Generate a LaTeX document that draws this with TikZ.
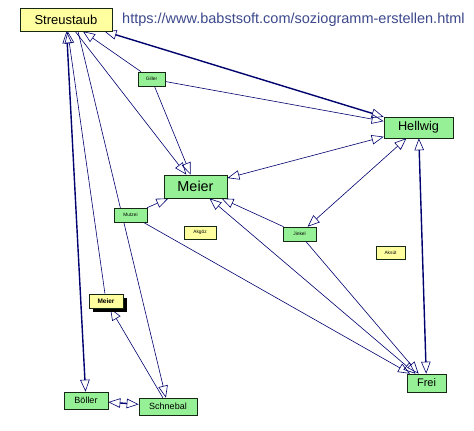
\documentclass[tikz,border=0pt]{standalone}
\usepackage{fontspec}
\setmainfont{Liberation Sans}
\usepackage{xcolor}
\usepackage{tikz}
\usetikzlibrary{arrows.meta, backgrounds, shadows}
\definecolor{mynavy}{RGB}{0,0,110}
\definecolor{myedge}{RGB}{20,40,20}
\definecolor{mygreen}{RGB}{150,240,150}
\definecolor{myyellow}{RGB}{255,255,160}
\definecolor{myurl}{RGB}{60,72,140}
\tikzset{
  person/.style={rectangle, draw=myedge, fill=mygreen, inner sep=0pt,
    line width=0.6pt},
  guest/.style={person, fill=myyellow},
  tinytext/.style={font=\fontsize{4.8}{5}\selectfont},
  pick/.style={-{Triangle[open, length=12pt, width=9.5pt, line width=0.6pt]},
    color=mynavy, line width=0.6pt},
  mutual/.style={{Triangle[open, length=12pt, width=9.5pt, line width=0.6pt]}-{Triangle[open, length=12pt, width=9.5pt, line width=0.6pt]},
    color=mynavy, line width=0.6pt},
  strong/.style={line width=1.4pt}
}

\begin{document}
\begin{tikzpicture}[x=1pt, y=-1pt]
  \useasboundingbox (0,0) rectangle (474,431);

  \node[guest, minimum width=92pt, minimum height=23pt, font=\fontsize{13}{15}\selectfont] (streustaub) at (66,19.5) {Streustaub};
  \node[anchor=west, inner sep=0pt, text=myurl, font=\fontsize{14.5}{16}\selectfont] (url) at (122,20) {https://www.babstsoft.com/soziogramm-erstellen.html};

  \node[person, tinytext, minimum width=27pt, minimum height=14pt] (giller) at (151.5,79) {Giller};
  \node[person, minimum width=69pt, minimum height=21pt, font=\fontsize{12.7}{14}\selectfont] (hellwig) at (418.5,127.5) {Hellwig};
  \node[person, minimum width=63pt, minimum height=23pt, line width=0.8pt, font=\fontsize{14.4}{16}\selectfont] (meier) at (195.5,186.5) {Meier};
  \node[person, tinytext, minimum width=33pt, minimum height=14pt] (mutzei) at (130.5,215) {Mutzei};
  \node[guest, tinytext, minimum width=32pt, minimum height=13pt] (akgoez) at (200,232.5) {Akgöz};
  \node[person, tinytext, minimum width=33pt, minimum height=14pt] (jinkel) at (299.5,234) {Jinkel};
  \node[guest, tinytext, minimum width=29pt, minimum height=13pt] (aksuet) at (390.5,252.5) {Aksüt};
  \node[guest, minimum width=34pt, minimum height=14pt, font=\fontsize{6.5}{7}\selectfont\bfseries,
    drop shadow={shadow xshift=4pt, shadow yshift=-4pt, fill=black, opacity=1}] (meiertwo) at (106,301) {Meier};
  \node[person, minimum width=44pt, minimum height=17pt, font=\fontsize{9}{10}\selectfont] (boeller) at (86,400.5) {Böller};
  \node[person, minimum width=58pt, minimum height=17pt, font=\fontsize{9}{10}\selectfont] (schnebal) at (168,406.5) {Schnebal};
  \node[person, minimum width=39pt, minimum height=18pt, font=\fontsize{11}{12}\selectfont] (frei) at (426.5,383) {Frei};

  \begin{pgfonlayer}{background}
    % mutual choices
    \draw[mutual, strong] (streustaub) -- (hellwig);
    \draw[mutual, strong] (streustaub) -- (boeller);
    \draw[mutual, strong] (hellwig) -- (frei);
    \draw[mutual, strong] (boeller) -- (schnebal);
    \draw[mutual] (meier) -- (hellwig);
    \draw[mutual] (jinkel) -- (hellwig);
    \draw[mutual] (meier) -- (frei);

    % one-way choices
    \draw[pick] (giller) -- (streustaub);
    \draw[pick] (giller) -- (hellwig);
    \draw[pick] (giller) -- (meier);
    \draw[pick] (streustaub) -- (meier);
    \draw[pick] ([xshift=12pt]streustaub.south) -- (schnebal);
    \draw[pick] (meiertwo) -- (streustaub);
    \draw[pick] (schnebal) -- (meiertwo);
    \draw[pick] (mutzei) -- (meier);
    \draw[pick] (mutzei) -- (frei);
    \draw[pick] (jinkel) -- (meier);
    \draw[pick] (jinkel) -- (frei);
  \end{pgfonlayer}
\end{tikzpicture}
\end{document}
